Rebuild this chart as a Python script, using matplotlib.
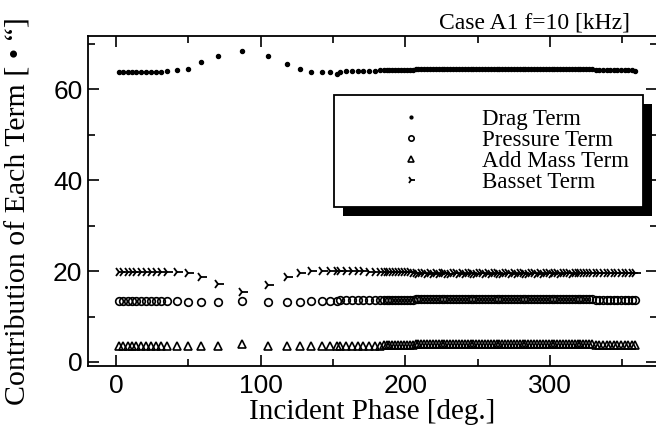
import matplotlib

matplotlib.use("Agg")

import matplotlib.pyplot as plt
from matplotlib.patches import Rectangle

# incident phase [deg.] of each computed point
phase = [
    2, 5, 8.5, 11, 14, 17, 20.5, 24, 27.5, 31, 35.5,
    42, 50, 59, 70.5, 87, 105, 118, 127, 135, 142.5, 148, 152.5,
    155, 159, 163, 167, 171, 175, 179, 182.5,
    185, 187, 189, 191, 193, 195, 197, 199, 201, 203, 205,
    207, 209, 211, 213, 215, 217, 219, 221, 223, 225, 227, 229, 231, 233, 235, 237,
    239, 241, 243, 245, 247, 249, 251, 253, 255, 257, 259, 261, 263, 265, 267, 269,
    271, 273, 275, 277, 279, 281, 283, 285, 287, 289, 291, 293, 295, 297, 299, 301,
    303, 305, 307, 309, 311, 313, 315, 317, 319, 321, 323, 325, 327, 329,
    331.5, 334, 336.5, 339, 341.5, 344, 346.5, 349, 351.5, 354, 356.5, 359,
]

drag = [
    63.8, 63.8, 63.8, 63.8, 63.8, 63.8, 63.8, 63.8, 63.8, 63.8, 63.9,
    64.3, 64.4, 65.9, 67.4, 68.3, 67.4, 65.6, 64.5, 63.8, 63.8, 63.7, 63.4,
    63.8, 63.9, 63.9, 64.0, 64.0, 64.1, 64.1, 64.2,
    64.3, 64.3, 64.3, 64.3, 64.3, 64.3, 64.3, 64.3, 64.3, 64.3, 64.3,
    64.4, 64.4, 64.4, 64.4, 64.5, 64.5, 64.5, 64.5, 64.5, 64.5, 64.5, 64.5, 64.5, 64.5, 64.5, 64.5,
    64.5, 64.5, 64.5, 64.5, 64.5, 64.5, 64.5, 64.5, 64.5, 64.5, 64.5, 64.5, 64.5, 64.5, 64.5, 64.5,
    64.5, 64.5, 64.5, 64.5, 64.5, 64.5, 64.5, 64.5, 64.5, 64.5, 64.5, 64.5, 64.5, 64.5, 64.5, 64.5,
    64.5, 64.5, 64.5, 64.5, 64.5, 64.5, 64.5, 64.5, 64.5, 64.5, 64.5, 64.5, 64.5, 64.4,
    64.3, 64.3, 64.3, 64.3, 64.3, 64.3, 64.3, 64.3, 64.3, 64.3, 64.3, 63.9,
]

pressure = [
    13.5, 13.5, 13.5, 13.5, 13.5, 13.5, 13.5, 13.5, 13.5, 13.5, 13.5,
    13.4, 13.2, 13.1, 13.1, 13.5, 13.1, 13.1, 13.2, 13.5, 13.5, 13.5, 13.5,
    13.6, 13.6, 13.6, 13.6, 13.6, 13.6, 13.6, 13.6,
    13.6, 13.6, 13.6, 13.6, 13.6, 13.6, 13.6, 13.6, 13.6, 13.6, 13.6,
    13.8, 13.8, 13.8, 13.8, 13.8, 13.8, 13.8, 13.8, 13.8, 13.8, 13.8, 13.8, 13.8, 13.8, 13.8, 13.8,
    13.8, 13.8, 13.8, 13.8, 13.8, 13.8, 13.8, 13.8, 13.8, 13.8, 13.8, 13.8, 13.8, 13.8, 13.8, 13.8,
    13.8, 13.8, 13.8, 13.8, 13.8, 13.8, 13.8, 13.8, 13.8, 13.8, 13.8, 13.8, 13.8, 13.8, 13.8, 13.8,
    13.8, 13.8, 13.8, 13.8, 13.8, 13.8, 13.8, 13.8, 13.8, 13.8, 13.8, 13.8, 13.8, 13.8,
    13.6, 13.6, 13.6, 13.6, 13.6, 13.6, 13.6, 13.6, 13.6, 13.6, 13.6, 13.6,
]

add_mass = [
    3.6, 3.6, 3.6, 3.6, 3.6, 3.6, 3.6, 3.6, 3.6, 3.6, 3.6,
    3.5, 3.5, 3.5, 3.5, 3.9, 3.5, 3.5, 3.5, 3.5, 3.5, 3.5, 3.5,
    3.6, 3.6, 3.6, 3.6, 3.6, 3.6, 3.6, 3.6,
    3.8, 3.8, 3.8, 3.8, 3.8, 3.8, 3.8, 3.8, 3.8, 3.8, 3.8,
    3.9, 3.9, 3.9, 3.9, 3.9, 3.9, 3.9, 3.9, 3.9, 3.9, 3.9, 3.9, 3.9, 3.9, 3.9, 3.9,
    3.9, 3.9, 3.9, 3.9, 3.9, 3.9, 3.9, 3.9, 3.9, 3.9, 3.9, 3.9, 3.9, 3.9, 3.9, 3.9,
    3.9, 3.9, 3.9, 3.9, 3.9, 3.9, 3.9, 3.9, 3.9, 3.9, 3.9, 3.9, 3.9, 3.9, 3.9, 3.9,
    3.9, 3.9, 3.9, 3.9, 3.9, 3.9, 3.9, 3.9, 3.9, 3.9, 3.9, 3.9, 3.9, 3.9,
    3.8, 3.8, 3.8, 3.8, 3.8, 3.8, 3.8, 3.8, 3.8, 3.8, 3.8, 3.8,
]

basset = [
    19.9, 19.9, 19.9, 19.9, 19.9, 19.9, 19.9, 19.9, 19.9, 19.9, 19.9,
    19.8, 19.5, 18.6, 17.1, 15.5, 17.0, 18.6, 19.6, 20.0, 20.1, 20.1, 20.0,
    20.0, 20.0, 20.0, 20.0, 20.0, 19.9, 19.9, 19.9,
    19.8, 19.8, 19.8, 19.8, 19.8, 19.8, 19.7, 19.7, 19.7, 19.7, 19.6,
    19.6, 19.4, 19.6, 19.5, 19.3, 19.6, 19.4, 19.6, 19.3, 19.5, 19.6, 19.4, 19.3, 19.6, 19.5, 19.4,
    19.6, 19.3, 19.5, 19.6, 19.4, 19.3, 19.6, 19.5, 19.4, 19.6, 19.3, 19.5, 19.6, 19.4, 19.3, 19.6,
    19.5, 19.4, 19.6, 19.3, 19.5, 19.6, 19.4, 19.3, 19.6, 19.5, 19.4, 19.6, 19.3, 19.5, 19.6, 19.4,
    19.5, 19.6, 19.4, 19.5, 19.6, 19.5, 19.4, 19.6, 19.5, 19.6, 19.5, 19.6, 19.5, 19.6,
    19.6, 19.6, 19.6, 19.6, 19.6, 19.6, 19.6, 19.6, 19.6, 19.6, 19.6, 19.6,
]

SERIF = "Liberation Serif"
SANS = "Liberation Sans"

fig = plt.figure(figsize=(6.56, 4.38), dpi=100)
ax = fig.add_axes([88 / 656, 72 / 438, 569 / 656, 330.5 / 438])

ax.plot(phase, drag, linestyle="none", marker="o", ms=2.9, color="black", label="Drag Term")
ax.plot(phase, pressure, linestyle="none", marker="o", ms=5.5, mfc="none", mec="black", mew=1.2,
        label="Pressure Term")
ax.plot(phase, add_mass, linestyle="none", marker="^", ms=6, mfc="none", mec="black", mew=1.2,
        label="Add Mass Term")
ax.plot(phase, basset, linestyle="none", marker="4", ms=8, color="black", mew=1.3, label="Basset Term")

ax.set_xlim(-19.4, 373.9)
ax.set_ylim(-0.88, 71.8)
ax.set_xticks([0, 100, 200, 300])
ax.set_xticks([50, 150, 250, 350], minor=True)
ax.set_yticks([0, 20, 40, 60])
ax.set_yticks([10, 30, 50, 70], minor=True)
ax.tick_params(which="both", direction="in", top=True, right=True, width=1.2, colors="black")
ax.tick_params(which="major", length=8, labelsize=19, pad=4)
ax.tick_params(which="minor", length=5)
ax.tick_params(axis="x", which="major", pad=6)
for lab in ax.get_xticklabels() + ax.get_yticklabels():
    lab.set_fontfamily(SANS)
for spine in ax.spines.values():
    spine.set_linewidth(1.3)

ax.set_xlabel("Incident Phase [deg.]", fontfamily=SERIF, fontsize=21)
ax.set_ylabel("Contribution of Each Term [ \u2022 \u201c]", fontfamily=SERIF, fontsize=21.5)
ax.xaxis.set_label_coords(0.5, -0.1)
ax.yaxis.set_label_coords(-0.1, 0.47)

fig.text(630 / 656, 1 - 28 / 438, "Case A1 f=10 [kHz]", ha="right", va="baseline",
         fontfamily=SERIF, fontsize=17)

leg = ax.legend(loc="upper left", bbox_to_anchor=(334 / 656, 1 - 95 / 438), bbox_transform=fig.transFigure,
                borderaxespad=0, fancybox=False, framealpha=1, edgecolor="black",
                prop={"family": SERIF, "size": 16.5}, markerscale=0.7, numpoints=1,
                handlelength=5.5, handletextpad=0.35, labelspacing=0.0, borderpad=0.6)
leg.get_frame().set_linewidth(1.3)
leg.set_zorder(5)

# solid black drop shadow under the legend box
fig.canvas.draw()
bb = leg.get_window_extent()
off = 9
(x0, y0), (x1, y1) = ax.transAxes.inverted().transform([[bb.x0 + off, bb.y0 - off], [bb.x1 + off, bb.y1 - off]])
ax.add_patch(Rectangle((x0, y0), x1 - x0, y1 - y0, transform=ax.transAxes, facecolor="black",
                       edgecolor="none", zorder=4.9, clip_on=False))

fig.savefig("out.png", dpi=100)
plt.close(fig)
